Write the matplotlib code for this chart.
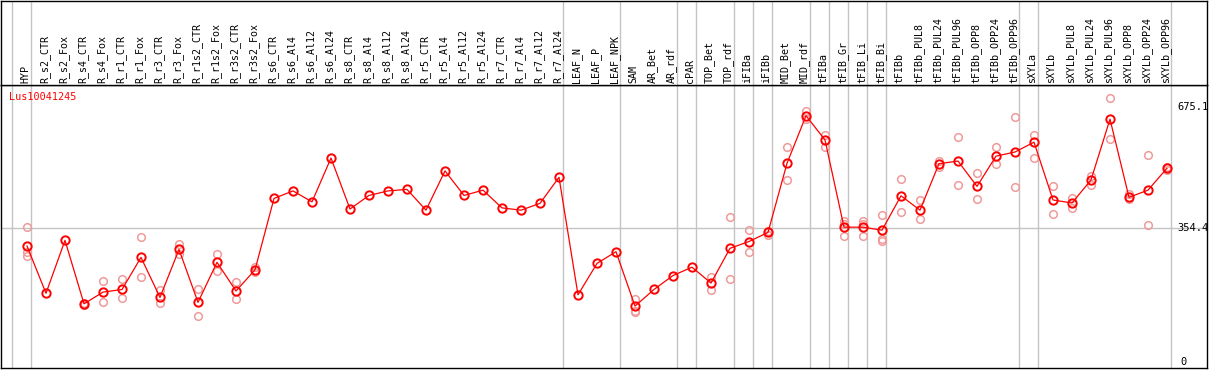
import numpy as np
import matplotlib
matplotlib.use('Agg')
from matplotlib import pyplot as plt

nan = np.nan

samples = ['HYP', 'R_s2_CTR', 'R_s2_Fox', 'R_s4_CTR', 'R_s4_Fox', 'R_r1_CTR', 'R_r1_Fox',
           'R_r3_CTR', 'R_r3_Fox', 'R_r1s2_CTR', 'R_r1s2_Fox', 'R_r3s2_CTR', 'R_r3s2_Fox',
           'R_s6_CTR', 'R_s6_Al4', 'R_s6_Al12', 'R_s6_Al24', 'R_s8_CTR', 'R_s8_Al4',
           'R_s8_Al12', 'R_s8_Al24', 'R_r5_CTR', 'R_r5_Al4', 'R_r5_Al12', 'R_r5_Al24',
           'R_r7_CTR', 'R_r7_Al4', 'R_r7_Al12', 'R_r7_Al24', 'LEAF_N', 'LEAF_P', 'LEAF_NPK',
           'SAM', 'AR_Bet', 'AR_rdf', 'cPAR', 'TOP_Bet', 'TOP_rdf', 'iFIBa', 'iFIBb',
           'MID_Bet', 'MID_rdf', 'tFIBa', 'tFIB_Gr', 'tFIB_Li', 'tFIB_Bi', 'tFIBb',
           'tFIBb_PUL8', 'tFIBb_PUL24', 'tFIBb_PUL96', 'tFIBb_OPP8', 'tFIBb_OPP24',
           'tFIBb_OPP96', 'sXYLa', 'sXYLb', 'sXYLb_PUL8', 'sXYLb_PUL24', 'sXYLb_PUL96',
           'sXYLb_OPP8', 'sXYLb_OPP24', 'sXYLb_OPP96']

mean_expr = [307, 182, 322, 154, 185, 192, 277, 171, 298, 158, 264, 188, 244,
             433, 453, 424, 540, 405, 441, 453, 457, 402, 506, 441, 455, 408, 402, 420, 489,
             178, 261, 292, 148, 192, 229, 251, 209, 301, 319, 343,
             526, 652, 588, 357, 357, 349, 440, 402, 525, 532, 465, 545, 556,
             582, 429, 421, 482, 643, 436, 455, 513]

rep_a = [357, nan, nan, 157, 214, 220, 330, 191, 312, 193, 285, 211, 251,
         nan, nan, nan, nan, nan, nan, nan, nan, nan, nan, nan, nan, nan, nan, nan, nan,
         nan, nan, nan, 166, nan, nan, nan, 225, 383, 349, 337,
         568, 665, 601, 374, 374, 388, 485, 429, 531, 595, 500, 569, 649,
         601, 465, 435, 492, 698, 445, 547, 517]

rep_b = [281, nan, nan, 151, 159, 169, 224, 155, 286, 122, 242, 166, 238,
         nan, nan, nan, nan, nan, nan, nan, nan, nan, nan, nan, nan, nan, nan, nan, nan,
         nan, nan, nan, 132, nan, nan, nan, 190, 219, 290, 346,
         481, 643, 570, 334, 334, 325, 396, 378, 515, 468, 432, 523, 463,
         539, 391, 407, 468, 590, 431, 362, 508]

rep_c = [292, nan, nan, nan, nan, nan, nan, nan, nan, nan, nan, nan, nan,
         nan, nan, nan, nan, nan, nan, nan, nan, nan, nan, nan, nan, nan, nan, nan, nan,
         nan, nan, nan, 136, nan, nan, nan, nan, nan, nan, nan,
         nan, nan, nan, 366, 366, 320, nan, nan, nan, nan, nan, nan, nan,
         nan, nan, nan, nan, nan, nan, nan, nan]

# separators drawn just after these sample indices
group_ends = [-1, 0, 28, 31, 34, 35, 37, 38, 39, 41, 42, 43, 44, 45, 52, 53, 60]
y_ticks = [675.1, 354.4, 0]
gene = 'Lus10041245'

W, H = 1209, 370
def frac(x0, y0, x1, y1):
    return [x0 / W, 1 - y1 / H, (x1 - x0) / W, (y1 - y0) / H]

font = 'DejaVu Sans Mono'
grid_c = '#c4c4c4'

fig = plt.figure(figsize=(W / 100, H / 100), dpi=100)
ax = fig.add_axes(frac(1, 85, 1207, 368))
top = fig.add_axes(frac(1, 1, 1207, 85), sharex=ax)

x = np.arange(len(samples))
ax.set_xlim(-26 / 19, 1180 / 19)
ax.set_ylim(-15.9, 733.4)

for g in group_ends:
    ax.axvline(g + 0.2, color=grid_c, lw=1, zorder=0)
    top.axvline(g + 0.2, color=grid_c, lw=1, zorder=0)
ax.axhline(354.4, color=grid_c, lw=1, zorder=0)

for reps in (rep_a, rep_b, rep_c):
    ax.plot(x, reps, 'o', ms=5.5, mfc='none', mec='#f09a9a', mew=1.1, zorder=2)
ax.plot(x, mean_expr, '-', color='red', lw=0.9, zorder=3)
ax.plot(x, mean_expr, 'o', ms=6, mfc='none', mec='red', mew=1.4, zorder=4)

for v in y_ticks:
    label = '0' if v == 0 else '%.1f' % v
    xpos = 60.55 if v else 60.7
    ax.text(xpos, v, label, fontsize=7.5, family=font, ha='left', va='center', clip_on=True)

ax.text(-0.95, 701, gene, color='red', fontsize=7.3, family=font, ha='left', va='center')

ax.set_xticks([])
ax.set_yticks([])
top.set_yticks([])
top.set_ylim(0, 1)
for i, s in enumerate(samples):
    top.text(i - 0.08, 0.024, s, rotation=90, ha='center', va='bottom',
             fontsize=7.2, family=font)
top.tick_params(bottom=False, labelbottom=False)

for a in (ax, top):
    for sp in a.spines.values():
        sp.set_color('black')
        sp.set_linewidth(1.0)

fig.savefig('out.png', dpi=100)
